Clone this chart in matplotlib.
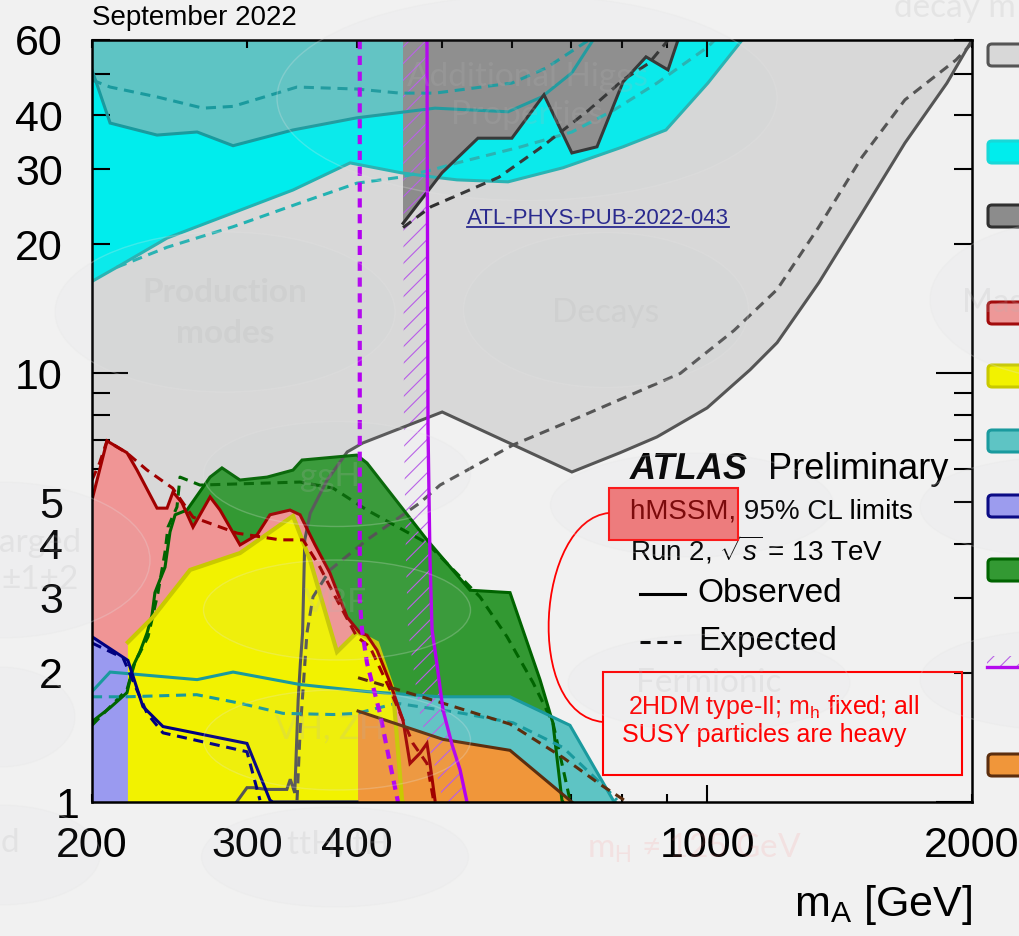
import numpy as np
import matplotlib
matplotlib.use("Agg")
import matplotlib.pyplot as plt
from matplotlib.patches import Polygon, Rectangle, Ellipse, FancyBboxPatch, PathPatch
from matplotlib.path import Path
from matplotlib.lines import Line2D

plt.rcParams['font.family'] = ['Liberation Sans', 'DejaVu Sans']
plt.rcParams['mathtext.fontset'] = 'custom'
plt.rcParams['mathtext.rm'] = 'Liberation Sans'
plt.rcParams['mathtext.it'] = 'Liberation Sans:italic'
plt.rcParams['hatch.linewidth'] = 0.8

# exclusion contours in the (mA [GeV], tan(beta)) plane, obs = observed, exp = expected
lgrey_obs_m = [292, 300, 305, 316, 333, 336, 340, 343, 345, 347, 349, 354, 370, 390, 406, 500,
               702, 796, 877, 1000, 1119, 1201, 1340, 1500, 1678, 1873, 2000]
lgrey_obs_tb = [1.0, 1.08, 1.08, 1.07, 1.07, 1.13, 1.05, 1.73, 2.11, 2.48, 4.09, 4.72, 5.64, 6.56, 6.88, 8.13,
                5.89, 6.53, 7.11, 8.31, 10.2, 11.8, 16.3, 23.7, 34.5, 47.6, 60]
lgrey_exp_m = [342, 344.7, 351, 356.6, 372.8, 410.7, 471.8, 497.2, 601.8, 718, 932, 1073, 1201, 1340,
               1500, 1678, 1918, 2000]
lgrey_exp_tb = [1.01, 1.45, 2.48, 3.01, 3.48, 4.09, 4.99, 5.49, 6.81, 7.93, 10.0, 12.6, 15.7, 22.0,
                32.0, 43.5, 53.9, 59]

cyan_obs_m = [200, 213.5, 243.4, 289.3, 338.4, 392.9, 448.9, 490.7, 519.8, 594, 685.8, 802.5, 898, 1002, 1096]
cyan_obs_tb = [16.4, 17.7, 20.7, 23.7, 26.8, 31.0, 29.4, 28.7, 28.3, 28.0, 30.2, 33.8, 37.0, 47.6, 60]
cyan_exp_m = [213.5, 243.4, 289.3, 344.7, 400, 447.7, 488, 520, 614.5, 702, 784, 877, 1002, 1020]
cyan_exp_tb = [17.7, 19.7, 22.0, 25.0, 27.8, 28.7, 29.9, 31.0, 33.8, 36.6, 41.2, 47.6, 57.8, 60]

teal_hi_obs_m = [200, 209.7, 237.1, 263.3, 289.3, 338.4, 400, 490.7, 594, 649, 702, 742]
teal_hi_obs_tb = [51.1, 38.4, 36.0, 36.6, 34.0, 37.0, 39.5, 41.6, 40.8, 44.2, 50.3, 60]
teal_hi_exp_m = [200, 209.7, 237, 267.4, 289.3, 342, 400, 447.7, 490.7, 600, 656, 734]
teal_hi_exp_tb = [48.4, 46.6, 44.2, 41.6, 42.0, 46.6, 46.1, 45.1, 45.1, 47.6, 51.6, 60]
teal_lo_obs_m = [200, 209.7, 263.3, 289.3, 344.7, 410.7, 497, 597, 698.5, 782, 786]
teal_lo_obs_tb = [1.81, 2.01, 1.93, 2.01, 1.88, 1.81, 1.76, 1.76, 1.51, 1.01, 1.0]
teal_lo_exp_m = [200, 219, 263, 294.6, 329.7, 375.8, 400, 444, 528, 602, 686, 770, 790]
teal_lo_exp_tb = [1.76, 1.76, 1.78, 1.70, 1.61, 1.60, 1.61, 1.70, 1.61, 1.53, 1.34, 1.07, 1.01]

dgrey_obs_m = [451.3, 499.8, 549, 600, 652.6, 702, 749.7, 802.5, 852.3, 902.8, 926.7]
dgrey_obs_tb = [22.4, 29.4, 35.4, 35.4, 44.7, 32.7, 33.8, 47.9, 54.8, 51.1, 60]
dgrey_exp_m = [451.3, 485.6, 580, 649, 734, 802.5, 859, 898, 903]
dgrey_exp_tb = [21.9, 24.5, 28.7, 33.8, 41.2, 48.4, 53.0, 59.1, 60]

red_obs_m = [200, 208, 219.2, 225, 237.1, 243.4, 247.2, 253.1, 260.5, 272.4, 279.6, 294.6, 308, 318.6,
             335.8, 344.7, 358.5, 372.8, 389.8, 403.3, 410.7, 421.6, 436.2, 451.3, 459.6, 471.8, 480.5,
             484.3, 490.7]
red_obs_tb = [5.07, 6.96, 6.53, 5.95, 4.85, 4.85, 5.29, 4.99, 4.38, 5.15, 4.80, 3.98, 4.20, 4.68,
              4.80, 4.68, 3.98, 3.42, 2.70, 2.48, 2.45, 2.26, 1.90, 1.55, 1.23, 1.30, 1.37,
              1.23, 1.01]
red_exp_m = [200, 204, 208, 219, 231, 247, 260.5, 292.3, 327.1, 347.4, 363.2, 375.8, 400, 413.9,
             436.2, 463.2, 480.5, 488, 489]
red_exp_tb = [5.64, 6.18, 6.96, 6.53, 5.95, 5.40, 4.62, 4.24, 4.09, 4.09, 3.53, 3.08, 2.43, 2.30,
              1.83, 1.37, 1.23, 1.03, 1.0]

yellow_obs_m = [219.7, 219.7, 234.6, 258.5, 294.6, 338.4, 353.8, 379.7, 400, 421.6, 439.6, 450.1, 451.3]
yellow_obs_tb = [1.0, 2.36, 2.70, 3.48, 3.81, 4.65, 3.67, 2.24, 2.49, 2.35, 1.83, 1.01, 1.0]

blue_obs_m = [200, 219.7, 228.5, 240.8, 300, 318.6, 321, 400]
blue_obs_tb = [2.43, 2.14, 1.67, 1.50, 1.37, 1.01, 1.0, 1.0]
blue_exp_m = [200, 216.9, 231, 240.8, 300, 310.4]
blue_exp_tb = [2.35, 2.17, 1.61, 1.45, 1.31, 1.01]

green_obs_m = [200, 209.7, 219.2, 222.6, 226.7, 231, 234, 235.8, 238.9, 242.1, 245.3, 248.6, 256.4,
               272.4, 281, 294.6, 316.2, 338.4, 346.5, 400, 410.7, 480.5, 537.8, 597.1, 645.8, 668,
               684, 686]
green_obs_tb = [1.54, 1.66, 1.80, 2.07, 2.24, 2.48, 2.73, 3.08, 3.30, 3.53, 4.27, 4.68, 4.80,
                5.73, 6.02, 5.64, 5.73, 5.95, 6.28, 6.45, 6.18, 4.09, 3.12, 3.08, 1.93, 1.53,
                1.01, 1.0]
green_exp_m = [200, 219.2, 223.8, 231.6, 237.7, 242.1, 244, 249.8, 251.8, 265.3, 344.7, 375.8, 410.7,
               480.5, 552, 592.4, 634.1, 668.1, 698.5]
green_exp_tb = [1.51, 1.83, 2.12, 2.43, 3.08, 3.83, 4.38, 4.88, 5.73, 5.49, 5.58, 5.40, 4.80,
                4.02, 3.01, 2.43, 1.90, 1.53, 1.01]

orange_obs_m = [401.2, 401.2, 501.1, 597.1, 702]
orange_obs_tb = [1.0, 1.63, 1.40, 1.32, 1.0]
orange_exp_m = [401.2, 501.1, 597.1, 685.8, 755.6, 811]
orange_exp_tb = [1.95, 1.70, 1.52, 1.27, 1.10, 1.0]

purple_obs_m = [480.5, 481.8, 484.3, 486.9, 493.3, 501.1, 513.1, 523.9, 533.5]
purple_obs_tb = [60, 7.38, 3.67, 2.52, 2.09, 1.64, 1.36, 1.19, 1.0]
purple_exp_m = [403, 403, 405.4, 410.7, 424.9, 436.2, 445.4]
purple_exp_tb = [60, 2.96, 2.52, 2.11, 1.61, 1.23, 1.0]

# colours (fill, line)
LGREY = ('#d8d8d8', '#555555')
CYAN = ('#00eded', '#22b2b2')
TEAL = ('#5ec4c4', '#1a9a9e')
DGREY = ('#8c8c8c', '#303030')
PINK = ('#f09595', '#a00000')
YELLOW = ('#f2f200', '#c9c900')
BLUE = ('#9a9af0', '#000080')
GREEN = ('#339933', '#006400')
ORANGE = ('#f0963a', '#5c2e0e')
PURPLE = '#b400f0'

W, H = 1019, 936
BG = '#f1f1f1'
fig = plt.figure(figsize=(W / 100, H / 100), dpi=100, facecolor=BG)
ax = fig.add_axes([92 / W, 1 - 802 / H, 880 / W, 762 / H])
ax.set_facecolor(BG)
ax.set_xscale('log')
ax.set_yscale('log')
ax.set_xlim(200, 2000)
ax.set_ylim(1, 60)


def region(pts, color, z):
    ax.add_patch(Polygon(pts, closed=True, facecolor=color, edgecolor='none', zorder=z))


def curve(m, tb, color, dashed=False, lw=2.2, z=6):
    ls = (0, (3.3, 2.2)) if dashed else '-'
    ax.plot(m, tb, color=color, lw=lw, ls=ls, zorder=z, solid_joinstyle='miter')


def pts(m, tb):
    return list(zip(m, tb))


# filled excluded regions, back to front
region([(200, 1)] + pts(lgrey_obs_m, lgrey_obs_tb) + [(200, 60)], LGREY[0], 1)
region(pts(cyan_obs_m, cyan_obs_tb) + [(200, 60)], CYAN[0], 1.1)
region(pts(teal_hi_obs_m, teal_hi_obs_tb) + [(200, 60)], TEAL[0], 1.2)
region([(dgrey_obs_m[0], 60)] + pts(dgrey_obs_m, dgrey_obs_tb), DGREY[0], 1.3)
region([(200, 1)] + pts(green_obs_m, green_obs_tb), GREEN[0], 1.4)
region([(200, 1)] + pts(teal_lo_obs_m, teal_lo_obs_tb), TEAL[0], 1.5)
region([(200, 1)] + pts(red_obs_m, red_obs_tb) + [(red_obs_m[-1], 1)], PINK[0], 1.6)
region([(200, 1)] + pts(blue_obs_m[:7], blue_obs_tb[:7]), BLUE[0], 1.7)
region(pts(yellow_obs_m, yellow_obs_tb), YELLOW[0], 1.8)
region(pts(orange_obs_m, orange_obs_tb), ORANGE[0], 1.9)

# hatched band on the excluded side of the purple line
band_left = np.array(purple_obs_m) / 1.065
hatch_pts = pts(purple_obs_m, purple_obs_tb) + pts(band_left[::-1], purple_obs_tb[::-1])
ax.add_patch(Polygon(hatch_pts, closed=True, fill=False, edgecolor='#b85ce8', lw=0,
                     hatch='//', zorder=2))

# contour lines
curve(lgrey_obs_m, lgrey_obs_tb, LGREY[1])
curve(lgrey_exp_m, lgrey_exp_tb, LGREY[1], dashed=True)
curve(cyan_obs_m, cyan_obs_tb, CYAN[1])
curve(cyan_exp_m, cyan_exp_tb, CYAN[1], dashed=True)
curve(teal_hi_obs_m, teal_hi_obs_tb, TEAL[1])
curve(teal_hi_exp_m, teal_hi_exp_tb, TEAL[1], dashed=True)
curve(dgrey_obs_m, dgrey_obs_tb, DGREY[1])
curve(dgrey_exp_m, dgrey_exp_tb, DGREY[1], dashed=True)
curve(green_obs_m, green_obs_tb, GREEN[1])
curve(green_exp_m, green_exp_tb, GREEN[1], dashed=True)
curve(teal_lo_obs_m, teal_lo_obs_tb, TEAL[1])
curve(teal_lo_exp_m, teal_lo_exp_tb, TEAL[1], dashed=True)
curve(yellow_obs_m[1:], yellow_obs_tb[1:], YELLOW[1], lw=3)
curve(red_obs_m, red_obs_tb, PINK[1])
curve(red_exp_m, red_exp_tb, PINK[1], dashed=True)
curve(blue_obs_m, blue_obs_tb, BLUE[1])
curve(blue_exp_m, blue_exp_tb, BLUE[1], dashed=True)
curve(orange_obs_m[1:], orange_obs_tb[1:], ORANGE[1])
curve(orange_exp_m, orange_exp_tb, ORANGE[1], dashed=True)
curve(purple_obs_m, purple_obs_tb, PURPLE, lw=2.4, z=7)
ax.plot(purple_exp_m, purple_exp_tb, color=PURPLE, lw=3, ls=(0, (2.2, 1.6)), zorder=7)

# axes styling
for s in ax.spines.values():
    s.set_linewidth(1.8)
    s.set_zorder(8)
ax.set_xticks([1000], ['1000'])
ax.set_xticks([200, 300, 400, 500, 600, 700, 800, 900, 2000],
              ['200', '300', '400', '', '', '', '', '', '2000'], minor=True)
ax.set_yticks([1, 10], ['1', '10'])
ax.set_yticks([2, 3, 4, 5, 6, 7, 8, 9, 20, 30, 40, 50, 60],
              ['2', '3', '4', '5', '', '', '', '', '20', '30', '40', '', '60'], minor=True)
ax.tick_params(which='both', direction='in', top=True, right=True, width=1.5,
               labelsize=31, zorder=8)
ax.tick_params(axis='x', which='major', length=12, pad=17)
ax.tick_params(axis='x', which='minor', length=6, pad=17)
ax.tick_params(axis='y', which='major', length=26, pad=21)
ax.tick_params(axis='y', which='minor', length=13, pad=21)
ax.yaxis.get_major_ticks()[0].set_pad(9)

ax.text(1.0, -0.135, r'm$_{\rm A}$ [GeV]', transform=ax.transAxes, ha='right', va='center',
        fontsize=31)
ax.text(0.0, 1.029, 'September 2022', transform=ax.transAxes, ha='left', va='center', fontsize=20)

# labels in the plot
atl = ax.text(0.4261, 0.7664, 'ATL-PHYS-PUB-2022-043', transform=ax.transAxes, ha='left',
              va='center', fontsize=16, color='#2a2a8e', zorder=9)
ax.text(0.611, 0.4357, 'ATLAS', transform=ax.transAxes, ha='left', va='center', fontsize=26,
        fontweight='bold', fontstyle='italic', zorder=9)
ax.text(0.768, 0.4357, 'Preliminary', transform=ax.transAxes, ha='left', va='center',
        fontsize=26, zorder=9)
ax.text(0.611, 0.3806, 'hMSSM, 95% CL limits', transform=ax.transAxes, ha='left', va='center',
        fontsize=20, zorder=9)
ax.text(0.611, 0.3307, r'Run 2, $\sqrt{s}$ = 13 TeV', transform=ax.transAxes, ha='left',
        va='center', fontsize=20, zorder=9)
ax.plot([0.6227, 0.6739], [0.273, 0.273], transform=ax.transAxes, color='black', lw=2.2,
        zorder=9, clip_on=False)
ax.text(0.6875, 0.273, 'Observed', transform=ax.transAxes, ha='left', va='center', fontsize=24,
        zorder=9)
ax.plot([0.6227, 0.6693], [0.21, 0.21], transform=ax.transAxes, color='black', lw=2.2,
        ls=(0, (3.3, 2.2)), zorder=9, clip_on=False)
ax.text(0.6886, 0.21, 'Expected', transform=ax.transAxes, ha='left', va='center', fontsize=24,
        zorder=9)

# red annotation
ax.add_patch(Rectangle((0.5875, 0.3438), 0.1466, 0.0682, transform=ax.transAxes,
                       facecolor='#f00000', alpha=0.5, edgecolor='none', zorder=10))
ax.add_patch(Rectangle((0.5875, 0.3438), 0.1466, 0.0682, transform=ax.transAxes,
                       facecolor='none', edgecolor='#ff1010', lw=1.5, zorder=10))
ax.add_patch(Rectangle((0.5807, 0.0354), 0.408, 0.1352, transform=ax.transAxes,
                       facecolor='none', edgecolor='#ff0000', lw=1.5, zorder=10))
arc = Path([(0.5875, 0.3793), (0.505, 0.37), (0.49, 0.115), (0.5807, 0.105)],
           [Path.MOVETO, Path.CURVE4, Path.CURVE4, Path.CURVE4])
ax.add_patch(PathPatch(arc, transform=ax.transAxes, facecolor='none', edgecolor='#ff0000',
                       lw=1.3, zorder=10))
ax.text(0.609, 0.1247, r'2HDM type-II; m$_{\rm h}$ fixed; all', transform=ax.transAxes,
        ha='left', va='center', fontsize=18, color='#ff0000', zorder=10)
ax.text(0.602, 0.0879, 'SUSY particles are heavy', transform=ax.transAxes, ha='left',
        va='center', fontsize=18, color='#ff0000', zorder=10)


def fx(px):
    return px / W


def fy(py):
    return 1 - py / H


# legend swatches along the right edge
swatches = [(55, LGREY), (152, ('#00eded', '#18d8d8')), (216, DGREY), (313, PINK), (376, YELLOW),
            (441, TEAL), (506, BLUE), (570, GREEN), (765, ORANGE)]
for yc, (fc, ec) in swatches:
    fig.add_artist(FancyBboxPatch((fx(988), fy(yc + 11)), fx(60), 22 / H,
                                  boxstyle='round,pad=0,rounding_size=0.004',
                                  transform=fig.transFigure, facecolor=fc, edgecolor=ec, lw=2.2))
fig.add_artist(Rectangle((fx(987), fy(667)), fx(50), 11 / H, transform=fig.transFigure,
                         fill=False, edgecolor='#b85ce8', lw=0, hatch='//'))
fig.add_artist(Line2D([fx(987), fx(1030)], [fy(667), fy(667)], transform=fig.transFigure,
                      color=PURPLE, lw=2.4))

# faint slide layer on top
ellipses = [(527, 98, 500, 205), (225, 312, 340, 160), (606, 310, 285, 155), (1080, 300, 300, 160),
            (337, 474, 267, 105), (337, 610, 267, 100), (337, 740, 267, 100), (335, 857, 267, 100),
            (0, 560, 300, 156), (709, 683, 282, 97), (692, 505, 283, 104), (0, 855, 200, 100),
            (0, 717, 150, 100), (1060, 507, 280, 100), (1060, 680, 280, 100)]
for cx, cy, w, h in ellipses:
    fig.add_artist(Ellipse((fx(cx), fy(cy)), fx(w), h / H, transform=fig.transFigure,
                           facecolor='#c4cad0', alpha=0.06, edgecolor='none', zorder=20))
    fig.add_artist(Ellipse((fx(cx), fy(cy)), fx(w), h / H, transform=fig.transFigure,
                           facecolor='none', edgecolor='#e6e6e6', alpha=0.25, lw=1, zorder=20))

slide_txt = dict(family=['Lato', 'DejaVu Sans'], color='#b4b4b4', alpha=0.2, zorder=21,
                 ha='center', va='center')
fig.text(fx(527), fy(77), 'Additional Higgs', fontsize=24, **slide_txt)
fig.text(fx(527), fy(115), 'Properties', fontsize=24, **slide_txt)
fig.text(fx(225), fy(292), 'Production', fontsize=24, fontweight='bold', **slide_txt)
fig.text(fx(225), fy(333), 'modes', fontsize=24, fontweight='bold', **slide_txt)
fig.text(fx(606), fy(313), 'Decays', fontsize=24, **slide_txt)
fig.text(fx(1000), fy(303), 'Mass', fontsize=24, **slide_txt)
fig.text(fx(330), fy(477), 'ggH', fontsize=24, **slide_txt)
fig.text(fx(335), fy(603), 'VBF', fontsize=24, **slide_txt)
fig.text(fx(330), fy(730), 'VH, ZH', fontsize=24, **slide_txt)
fig.text(fx(338), fy(845), 'ttH, tH', fontsize=24, **slide_txt)
fig.text(fx(20), fy(543), 'Charged', fontsize=24, **slide_txt)
fig.text(fx(40), fy(580), '±1±2', fontsize=24, **slide_txt)
fig.text(fx(709), fy(683), 'Fermionic', fontsize=24, **slide_txt)
fig.text(fx(10), fy(843), 'd', fontsize=24, **slide_txt)
fig.text(fx(955), fy(8), 'decay m', fontsize=24, **slide_txt)
fig.text(fx(695), fy(848), r'm$_{\rm H}$ ≠ 125 GeV', fontsize=24, family=['Lato', 'DejaVu Sans'],
         color='#ff8080', alpha=0.14, zorder=21, ha='center', va='center')

# underline for the note reference
fig.canvas.draw()
bb = atl.get_window_extent()
fig.add_artist(Line2D([bb.x0 / W, bb.x1 / W], [(bb.y0 + 2) / H] * 2, transform=fig.transFigure,
                      color='#2a2a8e', lw=1.3, zorder=9))

fig.savefig('out.png', dpi=100, facecolor=BG)
